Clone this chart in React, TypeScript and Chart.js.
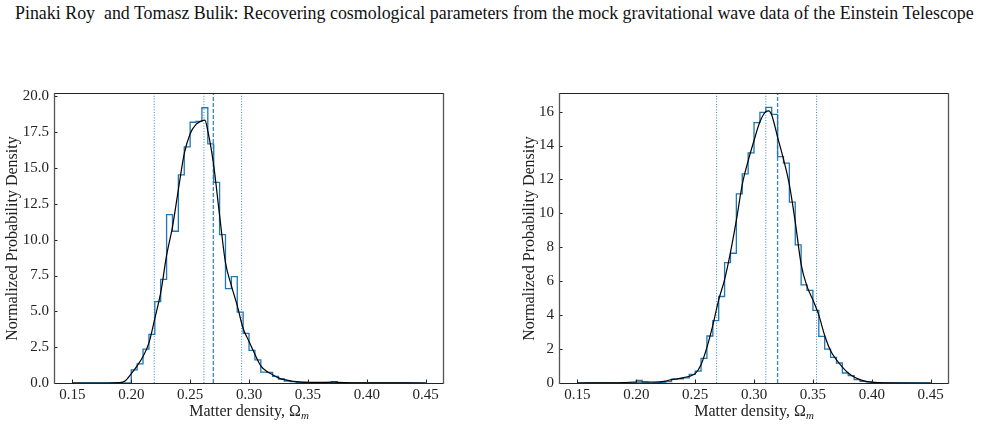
import React, { useEffect, useRef } from "react";
import { Chart, registerables } from "chart.js";

Chart.register(...registerables);

const TITLE =
  "Pinaki Roy  and Tomasz Bulik: Recovering cosmological parameters from the mock gravitational wave data of the Einstein Telescope";
const X_LABEL = "Matter density, Ω";
const X_LABEL_SUB = "m";
const Y_LABEL = "Normalized Probability Density";

const X_MIN = 0.1344;
const X_MAX = 0.4647;
const X_TICKS = [0.15, 0.2, 0.25, 0.3, 0.35, 0.4, 0.45];
const X_TICK_LABELS = ["0.15", "0.20", "0.25", "0.30", "0.35", "0.40", "0.45"];

// histogram bins: left edge of first bin and bin width
const BIN_START = 0.15;
const BIN_WIDTH = 0.005;

// ---- left panel ----
const LEFT_HIST = [
  0, 0, 0, 0, 0, 0, 0, 0, 0, 0,
  0.92, 1.34, 2.36, 3.4, 5.68, 7.23, 11.75, 10.59, 14.53, 16.48,
  18.2, 18.26, 19.21, 16.69, 14.0, 10.36, 6.58, 7.43, 4.94, 3.47,
  2.27, 1.62, 0.76, 0.74, 0.46, 0.28, 0.14, 0.09, 0.05, 0.05,
  0.03, 0.02, 0.02, 0.03, 0.1, 0.02, 0, 0, 0, 0,
  0, 0, 0, 0, 0, 0, 0, 0, 0, 0,
];
const LEFT_KDE_X = [
  0.15, 0.18, 0.19, 0.195, 0.2, 0.205, 0.21, 0.215, 0.22, 0.225, 0.23, 0.235,
  0.24, 0.245, 0.25, 0.255, 0.26, 0.2625, 0.265, 0.27, 0.275, 0.28, 0.285,
  0.29, 0.295, 0.3, 0.305, 0.31, 0.315, 0.32, 0.325, 0.33, 0.335, 0.34, 0.35,
  0.36, 0.37, 0.38, 0.39, 0.4, 0.45,
];
const LEFT_KDE_Y = [
  0, 0, 0.02, 0.15, 0.65, 1.2, 1.85, 2.8, 4.5, 6.3, 8.9, 10.9, 13.5, 16.0,
  17.4, 18.05, 18.3, 18.35, 17.6, 15.2, 11.7, 8.4, 6.8, 5.4, 3.8, 2.9, 2.0, 1.2,
  0.82, 0.58, 0.36, 0.23, 0.15, 0.1, 0.05, 0.04, 0.06, 0.03, 0.01, 0.01, 0,
];
const LEFT_Y_MAX = 20.17;
const LEFT_Y_TICKS = [0, 2.5, 5, 7.5, 10, 12.5, 15, 17.5, 20];
const LEFT_Y_LABELS = ["0.0", "2.5", "5.0", "7.5", "10.0", "12.5", "15.0", "17.5", "20.0"];
const LEFT_DOTTED = [0.2195, 0.2617, 0.2937];
const LEFT_DASHED = [0.2697];

// ---- right panel ----
const RIGHT_HIST = [
  0, 0, 0, 0, 0, 0, 0, 0, 0, 0,
  0.15, 0.05, 0, 0.02, 0.03, 0.08, 0.22, 0.25, 0.3, 0.51,
  0.7, 1.45, 2.77, 3.68, 5.1, 7.1, 7.65, 11.15, 12.33, 13.57,
  15.35, 15.96, 16.25, 15.84, 13.35, 12.96, 10.66, 8.14, 5.79, 5.46,
  4.28, 2.75, 2.0, 1.51, 1.18, 0.59, 0.43, 0.2, 0.1, 0.07,
  0.02, 0.01, 0, 0, 0, 0, 0, 0, 0, 0,
];
const RIGHT_KDE_X = [
  0.15, 0.18, 0.19, 0.2, 0.21, 0.22, 0.225, 0.23, 0.235, 0.24, 0.245, 0.25,
  0.255, 0.26, 0.265, 0.27, 0.275, 0.28, 0.285, 0.29, 0.295, 0.3, 0.305, 0.31,
  0.3125, 0.315, 0.32, 0.325, 0.33, 0.335, 0.34, 0.345, 0.35, 0.355, 0.36,
  0.365, 0.37, 0.375, 0.38, 0.385, 0.39, 0.395, 0.4, 0.41, 0.45,
];
const RIGHT_KDE_Y = [
  0, 0.01, 0.03, 0.06, 0.06, 0.07, 0.12, 0.2, 0.25, 0.32, 0.4, 0.55, 1.08, 2.1,
  3.4, 4.9, 6.1, 7.7, 9.6, 11.7, 13.1, 14.3, 15.4, 16.0, 16.05, 15.8, 14.5,
  13.2, 11.7, 9.5, 7.0, 5.7, 4.9, 4.0, 2.8, 1.9, 1.37, 0.94, 0.59, 0.35, 0.2,
  0.1, 0.05, 0.01, 0,
];
const RIGHT_Y_MAX = 17.04;
const RIGHT_Y_TICKS = [0, 2, 4, 6, 8, 10, 12, 14, 16];
const RIGHT_Y_LABELS = ["0", "2", "4", "6", "8", "10", "12", "14", "16"];
const RIGHT_DOTTED = [0.2682, 0.31, 0.3531];
const RIGHT_DASHED = [0.32];

const SERIF = '"Liberation Serif", "DejaVu Serif", serif';
const HIST_COLOR = "#1f77b4";

const framePlugin = {
  id: "frame",
  afterDatasetsDraw(chart: any) {
    const { ctx, chartArea: a, scales } = chart;
    ctx.save();
    ctx.strokeStyle = "#222";
    ctx.lineWidth = 1;
    for (const t of scales.x.ticks) {
      const px = Math.round(scales.x.getPixelForValue(t.value)) + 0.5;
      ctx.beginPath();
      ctx.moveTo(px, a.bottom);
      ctx.lineTo(px, a.bottom - 3.5);
      ctx.stroke();
    }
    for (const t of scales.y.ticks) {
      const py = Math.round(scales.y.getPixelForValue(t.value)) + 0.5;
      ctx.beginPath();
      ctx.moveTo(a.left, py);
      ctx.lineTo(a.left + 3.5, py);
      ctx.stroke();
    }
    // spines
    ctx.strokeStyle = "#222";
    ctx.lineWidth = 1;
    ctx.beginPath();
    ctx.moveTo(a.left, a.top - 0.5);
    ctx.lineTo(a.right, a.top - 0.5);
    ctx.moveTo(a.left, a.bottom + 0.5);
    ctx.lineTo(a.right, a.bottom + 0.5);
    ctx.stroke();
    ctx.strokeStyle = "#555";
    ctx.lineWidth = 1.3;
    ctx.beginPath();
    ctx.moveTo(a.left + 0.5, a.top - 1);
    ctx.lineTo(a.left + 0.5, a.bottom + 1);
    ctx.moveTo(a.right + 0.5, a.top - 1);
    ctx.lineTo(a.right + 0.5, a.bottom + 1);
    ctx.stroke();
    ctx.restore();
  },
};

type PanelProps = {
  hist: number[];
  kdeX: number[];
  kdeY: number[];
  yMax: number;
  yTicks: number[];
  yLabels: string[];
  dotted: number[];
  dashed: number[];
  axisWidth: number;
  padRight: number;
  titlePad: number;
  left: number;
};

function Panel(p: PanelProps) {
  const ref = useRef<HTMLCanvasElement | null>(null);
  useEffect(() => {
    if (!ref.current) return;
    const histPts = p.hist.map((v, i) => ({ x: BIN_START + i * BIN_WIDTH, y: v }));
    histPts.push({ x: BIN_START + p.hist.length * BIN_WIDTH, y: 0 });
    const kdePts = p.kdeX.map((x, i) => ({ x, y: p.kdeY[i] }));
    const vline = (x: number, dash: number[], color: string, width: number) => ({
      data: [
        { x, y: 0 },
        { x, y: p.yMax },
      ],
      borderColor: color,
      borderWidth: width,
      borderDash: dash,
      pointRadius: 0,
      fill: false,
    });
    const datasets: any[] = [
      {
        data: kdePts,
        borderColor: "#000",
        borderWidth: 1.2,
        pointRadius: 0,
        cubicInterpolationMode: "monotone",
        fill: false,
      },
      {
        data: histPts,
        borderColor: HIST_COLOR,
        borderWidth: 1.3,
        pointRadius: 0,
        stepped: "before",
        fill: false,
      },
      ...p.dashed.map((x) => vline(x, [4, 2], "rgba(31,119,180,0.85)", 1.4)),
      ...p.dotted.map((x) => vline(x, [1, 1.7], "rgba(31,119,180,0.9)", 1)),
    ];
    const chart = new Chart(ref.current, {
      type: "line",
      data: { datasets },
      plugins: [framePlugin],
      options: {
        animation: false,
        responsive: false,
        events: [],
        layout: { padding: { left: 0, top: 94, right: p.padRight, bottom: 0 } },
        plugins: { legend: { display: false }, tooltip: { enabled: false } },
        scales: {
          x: {
            type: "linear",
            min: X_MIN,
            max: X_MAX,
            grid: { display: false, drawTicks: false },
            border: { display: false },
            afterFit: (s: any) => {
              s.height = 42;
            },
            afterBuildTicks: (s: any) => {
              s.ticks = X_TICKS.map((v) => ({ value: v }));
            },
            ticks: {
              autoSkip: false,
              maxRotation: 0,
              padding: 3,
              color: "#222",
              font: { family: SERIF, size: 15 },
              callback: (_v: any, i: number) => X_TICK_LABELS[i],
            },
          },
          y: {
            type: "linear",
            min: 0,
            max: p.yMax,
            grid: { display: false, drawTicks: false },
            border: { display: false },
            afterFit: (s: any) => {
              s.width = p.axisWidth;
            },
            afterBuildTicks: (s: any) => {
              s.ticks = p.yTicks.map((v) => ({ value: v }));
            },
            ticks: {
              autoSkip: false,
              padding: 5,
              color: "#222",
              font: { family: SERIF, size: 15 },
              callback: (_v: any, i: number) => p.yLabels[i],
            },
            title: {
              display: true,
              text: Y_LABEL,
              color: "#222",
              font: { family: SERIF, size: 16 },
              padding: { top: p.titlePad, bottom: 0 },
            },
          },
        },
      } as any,
    });
    return () => chart.destroy();
  }, []);
  return (
    <canvas
      ref={ref}
      width={491}
      height={425}
      style={{ position: "absolute", left: p.left, top: 0, width: 491, height: 425 }}
    />
  );
}

function XLabel({ cx }: { cx: number }) {
  return (
    <div
      style={{
        position: "absolute",
        left: cx - 120,
        width: 240,
        top: 402,
        textAlign: "center",
        fontFamily: SERIF,
        fontSize: 16,
        lineHeight: "18px",
        color: "#222",
        whiteSpace: "pre",
      }}
    >
      {X_LABEL}
      <i style={{ fontSize: 11, position: "relative", top: 3 }}>{X_LABEL_SUB}</i>
    </div>
  );
}

export default function App() {
  return (
    <div
      style={{
        position: "absolute",
        left: 0,
        top: 0,
        width: 982,
        height: 425,
        background: "#fff",
        overflow: "hidden",
      }}
    >
      <div
        style={{
          position: "absolute",
          left: 15,
          top: 3,
          fontFamily: SERIF,
          fontSize: 17.9,
          lineHeight: "20px",
          color: "#111",
          whiteSpace: "pre",
        }}
      >
        {TITLE}
      </div>
      <Panel
        hist={LEFT_HIST}
        kdeX={LEFT_KDE_X}
        kdeY={LEFT_KDE_Y}
        yMax={LEFT_Y_MAX}
        yTicks={LEFT_Y_TICKS}
        yLabels={LEFT_Y_LABELS}
        dotted={LEFT_DOTTED}
        dashed={LEFT_DASHED}
        axisWidth={54}
        padRight={48}
        titlePad={3}
        left={0}
      />
      <Panel
        hist={RIGHT_HIST}
        kdeX={RIGHT_KDE_X}
        kdeY={RIGHT_KDE_Y}
        yMax={RIGHT_Y_MAX}
        yTicks={RIGHT_Y_TICKS}
        yLabels={RIGHT_Y_LABELS}
        dotted={RIGHT_DOTTED}
        dashed={RIGHT_DASHED}
        axisWidth={68}
        padRight={34}
        titlePad={29}
        left={491}
      />
      <XLabel cx={249} />
      <XLabel cx={754} />
    </div>
  );
}
